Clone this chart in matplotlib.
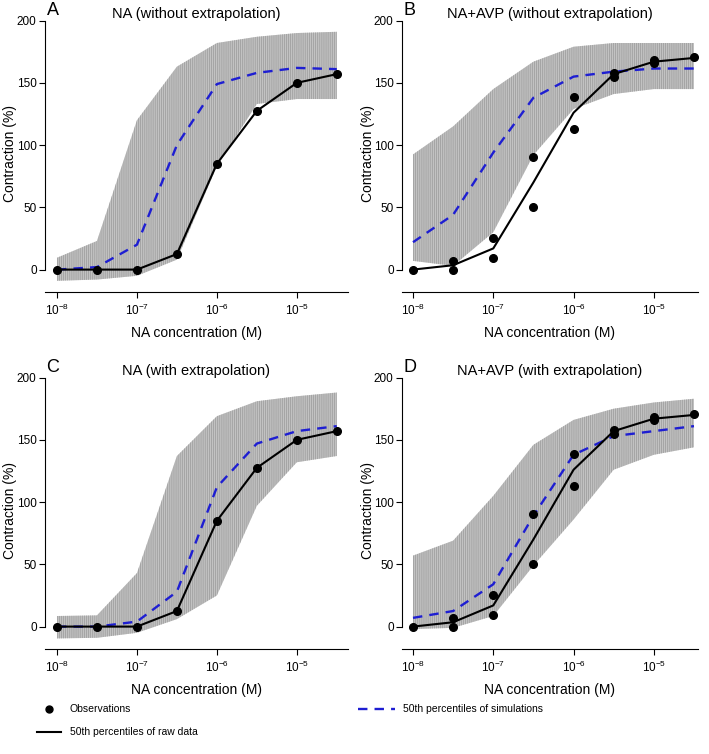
import numpy as np
import matplotlib
matplotlib.use("Agg")
import matplotlib.pyplot as plt
from matplotlib.lines import Line2D

plt.rcParams['font.family'] = ['Liberation Sans', 'DejaVu Sans']
plt.rcParams['mathtext.default'] = 'regular'
plt.rcParams['hatch.linewidth'] = 0.5

# nồng độ NA (M)
conc = [1e-8, 3.16e-8, 1e-7, 3.16e-7, 1e-6, 3.16e-6, 1e-5, 3.16e-5]

# dữ liệu quan sát
obs_na_x = [1e-8, 3.16e-8, 1e-7, 3.16e-7, 1e-6, 3.16e-6, 1e-5, 3.16e-5]
obs_na_y = [0, 0, 0, 12.5, 85, 127.5, 150, 157]
raw_na = [0, 0, 0, 12.5, 85, 127.5, 150, 157]

obs_avp_x = [1e-8, 3.16e-8, 3.16e-8, 1e-7, 1e-7, 3.16e-7, 3.16e-7, 1e-6, 1e-6,
             3.16e-6, 3.16e-6, 1e-5, 1e-5, 3.16e-5]
obs_avp_y = [0, 7, 0, 25, 9.5, 90.5, 50, 139, 113, 158, 155, 168, 166, 170.5]
raw_avp = [0, 3.5, 17, 70, 126, 157, 167, 170]

# mô phỏng: trung vị, cận dưới, cận trên
sim_a_med = [0, 2, 20, 100, 149, 158, 162, 161]
sim_a_lo = [-9, -8, -5, 8, 83, 133, 137, 137]
sim_a_hi = [9.5, 23, 120, 163, 182, 187, 190, 191]

sim_b_med = [22, 44, 94, 138, 155, 159, 161.5, 161.5]
sim_b_lo = [7, 3, 30, 92, 129, 141, 145, 145]
sim_b_hi = [92.5, 115, 145, 167, 179, 182, 182, 182]

sim_c_med = [0, 0, 4, 28, 112, 147, 157, 161]
sim_c_lo = [-9.5, -9, -5, 6, 25, 97, 132, 137]
sim_c_hi = [8.5, 9, 43, 137, 169, 181, 185, 188]

sim_d_med = [7, 12.5, 34, 89, 138, 153, 157, 161]
sim_d_lo = [-2, -1, 8.5, 49, 86, 126, 138, 144]
sim_d_hi = [57, 69, 105, 146, 166, 175, 180, 183]

panels = [
    ("A", "NA (without extrapolation)", obs_na_x, obs_na_y, raw_na, sim_a_med, sim_a_lo, sim_a_hi),
    ("B", "NA+AVP (without extrapolation)", obs_avp_x, obs_avp_y, raw_avp, sim_b_med, sim_b_lo, sim_b_hi),
    ("C", "NA (with extrapolation)", obs_na_x, obs_na_y, raw_na, sim_c_med, sim_c_lo, sim_c_hi),
    ("D", "NA+AVP (with extrapolation)", obs_avp_x, obs_avp_y, raw_avp, sim_d_med, sim_d_lo, sim_d_hi),
]

W, H = 709, 754
fig = plt.figure(figsize=(W / 100, H / 100), dpi=100)

# vị trí các trục (pixel): trái, phải, đáy trục x, xlim, vị trí nhãn y
boxes = [
    (45, 348, 292, (-8.15, -4.36), 17),
    (402, 698, 292, (-8.137, -4.45), 375),
    (45, 348, 649, (-8.15, -4.36), 17),
    (402, 698, 649, (-8.137, -4.45), 375),
]
px_per_unit = 249 / 200.0
ylo, yhi = -18, 205

for (letter, title, ox, oy, raw, med, lo, hi), (l, r, b, xl, ylx) in zip(panels, boxes):
    h = (yhi - ylo) * px_per_unit
    ax = fig.add_axes([l / W, 1 - b / H, (r - l) / W, h / H])
    ax.fill_between(conc, lo, hi, facecolor='#c2c2c2', edgecolor='#999999',
                    hatch='||||||||', linewidth=0)
    ax.plot(conc, med, color='#1e1ed2', lw=1.7, ls=(0, (4, 3)))
    ax.plot(conc, raw, color='black', lw=1.5)
    ax.plot(ox, oy, 'o', color='black', ms=5.5)
    ax.set_xscale('log')
    ax.set_xlim(10 ** xl[0], 10 ** xl[1])
    ax.set_ylim(ylo, yhi)
    ax.set_xticks([1e-8, 1e-7, 1e-6, 1e-5])
    ax.set_xticklabels([r'$10^{-8}$', r'$10^{-7}$', r'$10^{-6}$', r'$10^{-5}$'])
    ax.minorticks_off()
    ax.set_yticks([0, 50, 100, 150, 200])
    ax.spines['top'].set_visible(False)
    ax.spines['right'].set_visible(False)
    ax.spines['left'].set_bounds(0, 200)
    ax.tick_params(labelsize=8.5, length=4, width=0.8)
    ax.tick_params(axis='y', pad=2)
    ax.set_xlabel("NA concentration (M)", fontsize=10, labelpad=6)
    ax.set_ylabel("Contraction (%)", fontsize=10)
    ax.yaxis.set_label_coords((ylx - l) / (r - l), 0.5)
    ax.text(0.5, 1.0, title, transform=ax.transAxes, fontsize=10.5,
            ha='center', va='center')
    ax.text(0.005, 1.015, letter, transform=ax.transAxes, fontsize=13,
            ha='left', va='center')

h_obs = Line2D([], [], color='black', marker='o', ls='none', ms=5)
h_raw = Line2D([], [], color='black', lw=1.5)
h_sim = Line2D([], [], color='#1e1ed2', lw=1.7, ls=(0, (4, 3)))

fig.legend([h_obs, h_raw], ["Observations", "50th percentiles of raw data"],
           loc='upper left', bbox_to_anchor=(28 / W, 1 - 695 / H), frameon=False,
           fontsize=7.5, handlelength=2.3, labelspacing=1.25)
fig.legend([h_sim], ["50th percentiles of simulations"],
           loc='upper left', bbox_to_anchor=(349 / W, 1 - 695 / H), frameon=False,
           fontsize=7.5, handlelength=3.5)

fig.savefig("out.png", dpi=100)
